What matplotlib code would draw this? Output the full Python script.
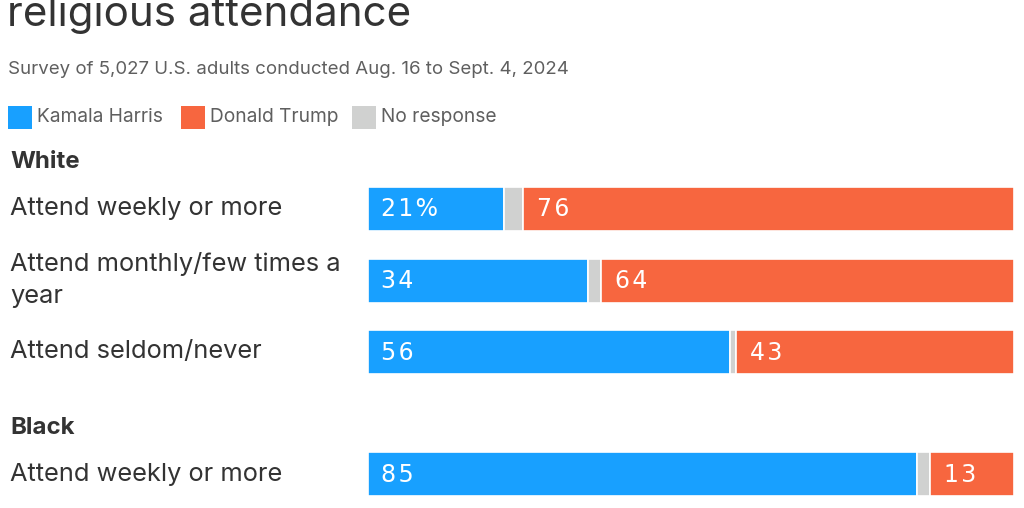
import matplotlib
matplotlib.use("Agg")
import matplotlib.pyplot as plt
from matplotlib.patches import Rectangle

# data
groups = ["White", "White", "White", "Black"]
rows = ["Attend weekly or more", "Attend monthly/few times a\nyear",
        "Attend seldom/never", "Attend weekly or more"]
harris = [21, 34, 56, 85]
no_resp = [3, 2, 1, 2]
trump = [76, 64, 43, 13]
series_names = ["Kamala Harris", "Donald Trump", "No response"]

blue = "#18a0ff"
orange = "#f7663f"
grey = "#d0d1d0"
ink = "#333333"
sub_ink = "#5f5f5f"

W, H = 1024, 508
fig = plt.figure(figsize=(W / 100, H / 100), dpi=100)
fig.patch.set_facecolor("white")

def fx(px):
    return px / W

def fy(py):
    return 1 - py / H

def spaced(s):
    # the value labels in the original are loosely tracked
    return "\u200a".join(s)

sans = ["Inter", "DejaVu Sans"]
nums = ["DejaVu Sans"]

# title (cut at top in reference), subtitle
fig.text(fx(7), fy(26), "religious attendance", fontsize=30.3, color=ink,
         family=sans, va="baseline", ha="left")
fig.text(fx(8), fy(70), "Survey of 5,027 U.S. adults conducted Aug. 16 to Sept. 4, 2024",
         fontsize=13.45, color=sub_ink, family=sans, va="center", ha="left")

# legend
leg_x = [8, 181, 352]
leg_cols = [blue, orange, grey]
for x0, c, name in zip(leg_x, leg_cols, series_names):
    fig.patches.append(Rectangle((fx(x0), fy(129)), 24 / W, 23 / H,
                                 transform=fig.transFigure, facecolor=c,
                                 edgecolor="none"))
    fig.text(fx(x0 + 29), fy(117), name, fontsize=13.8, color=sub_ink,
             family=sans, va="center", ha="left")

# bars
ax = fig.add_axes([fx(368), 0, 646 / W, 1])
ax.set_xlim(0, 100)
ax.set_ylim(H, 0)
ax.axis("off")

y_pos = [208.5, 280.5, 351.5, 474]
bar_h = 44

ax.barh(y_pos, harris, height=bar_h, color=blue, edgecolor="white", linewidth=1.2)
ax.barh(y_pos, no_resp, left=harris, height=bar_h, color=grey,
        edgecolor="white", linewidth=1.2)
t_left = [h + n for h, n in zip(harris, no_resp)]
ax.barh(y_pos, trump, left=t_left, height=bar_h, color=orange,
        edgecolor="white", linewidth=1.2)

for i, (y, h, tl, t) in enumerate(zip(y_pos, harris, t_left, trump)):
    lab = f"{h}%" if i == 0 else f"{h}"
    ax.text(2.0, y + 1, spaced(lab), color="white", fontsize=17, family=nums,
            va="center", ha="left")
    ax.text(tl + 2.2, y + 1, spaced(f"{t}"), color="white", fontsize=17,
            family=nums, va="center", ha="left")

# group headings and row labels
heads = {"White": 162, "Black": 428}
for g, yy in heads.items():
    fig.text(fx(10), fy(yy), g, fontsize=17.3, fontweight="bold", color=ink,
             family=sans, va="center", ha="left")

for y, lab in zip(y_pos, rows):
    fig.text(fx(10), fy(y), lab, fontsize=18.3, color=ink, family=sans,
             va="center", ha="left", linespacing=1.5)

fig.savefig("out.png", dpi=100, facecolor="white")
